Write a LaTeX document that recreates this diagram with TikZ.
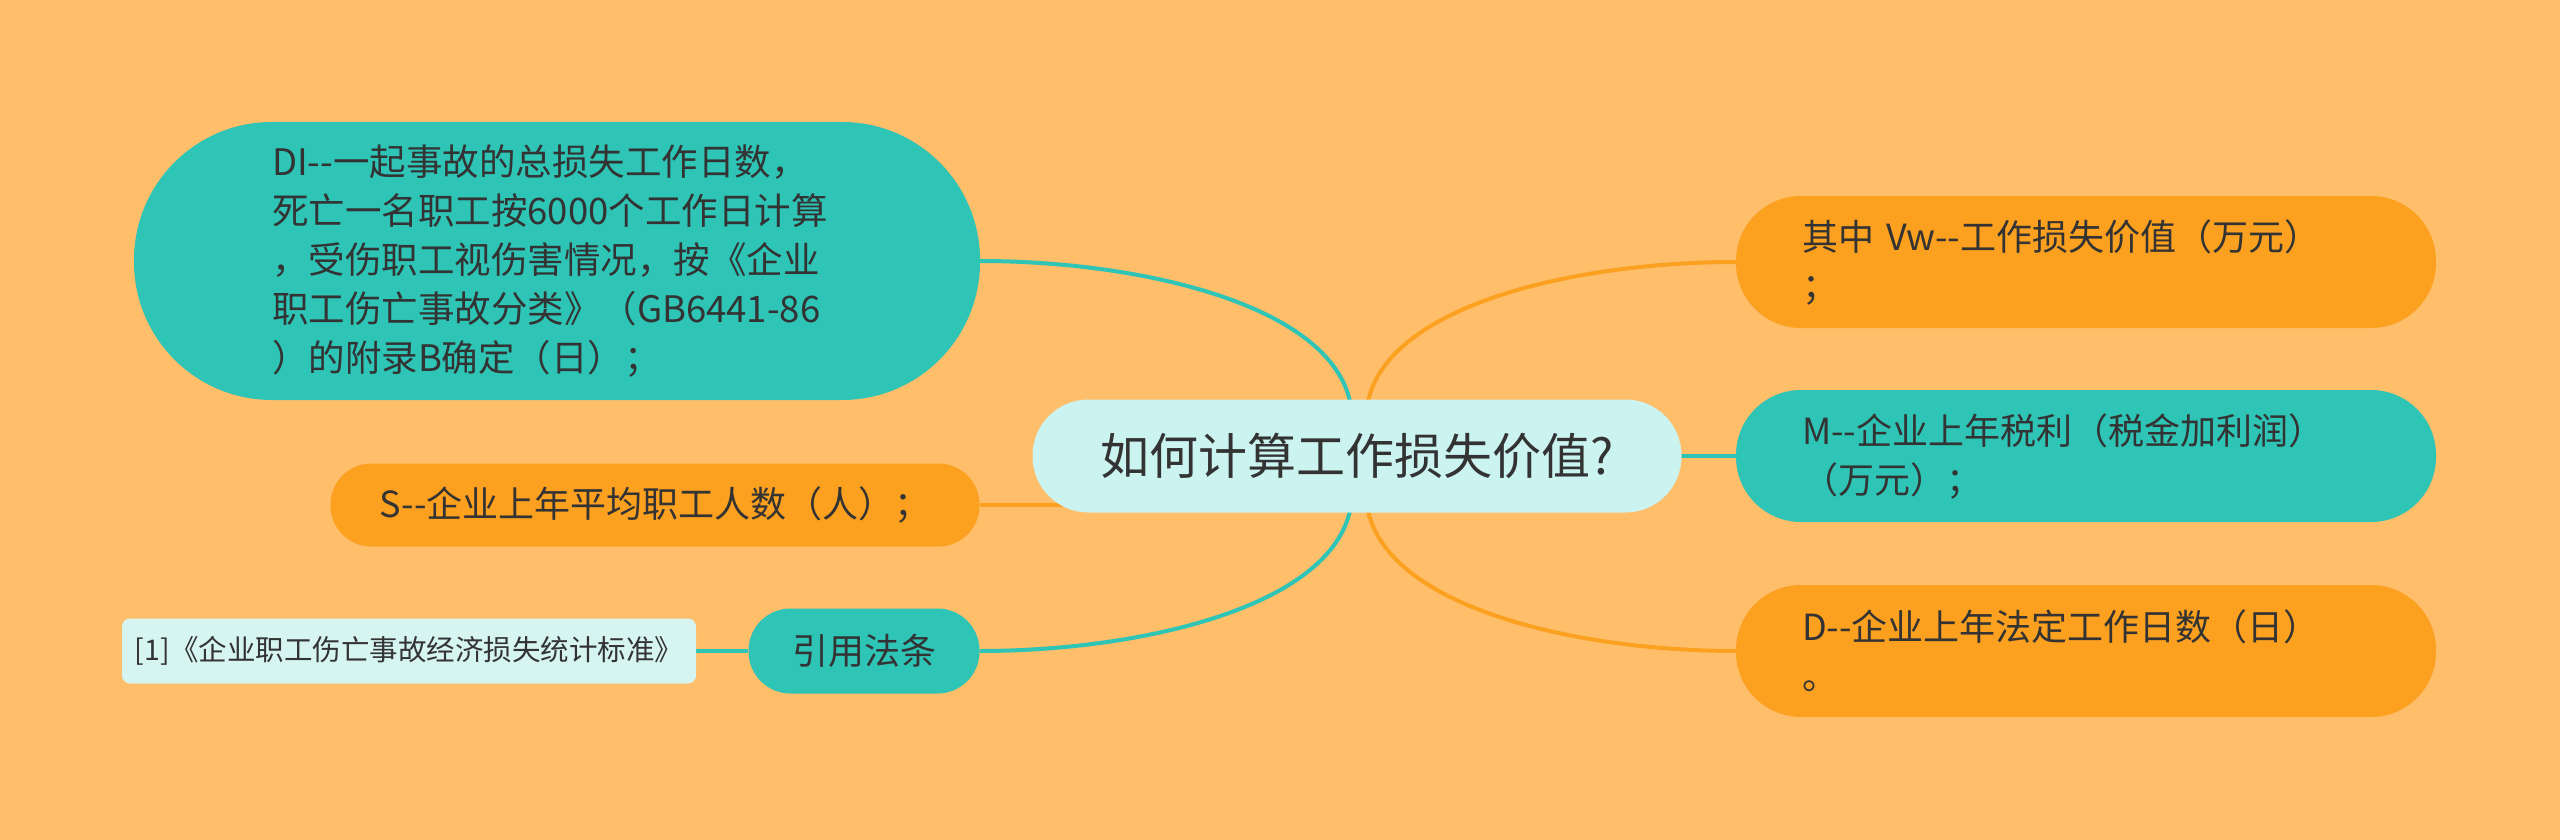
\documentclass[tikz,border=0pt]{standalone}
\usepackage{fontspec}
\newfontfamily\cjk{Noto Sans CJK SC}
\usetikzlibrary{calc}
\definecolor{bgc}{HTML}{FEBE6A}
\definecolor{orn}{HTML}{FCA01F}
\definecolor{tea}{HTML}{2EC4B6}
\definecolor{lcy}{HTML}{CBF3F0}
\definecolor{lcy2}{HTML}{D6F4F0}
\definecolor{txt}{HTML}{333333}
\pgfdeclarelayer{bglayer}
\pgfdeclarelayer{edgelayer}
\pgfsetlayers{bglayer,edgelayer,main}
\tikzset{
  base/.style={rectangle, inner sep=0pt, text=txt, font=\cjk\fontsize{36}{49}\selectfont},
  pill/.style={base, rounded corners=#1},
  orangebox/.style={fill=orn},
  tealbox/.style={fill=tea},
  tline/.style={draw=tea, line width=4pt},
  oline/.style={draw=orn, line width=4pt},
}
\begin{document}
\begin{tikzpicture}[x=1pt,y=-1pt]
\begin{pgfonlayer}{bglayer}
\fill[bgc] (0,0) rectangle (2560,840);
\end{pgfonlayer}
\useasboundingbox (0,0) rectangle (2560,840);

\node[pill=56pt, fill=lcy, minimum width=649pt, minimum height=113pt, font=\cjk\fontsize{49}{58}\selectfont] (c) at (1357,456) {如何计算工作损失价值?};
\coordinate (clu) at ($(c.center)+(-5,-36)$);
\coordinate (cld) at ($(c.center)+(-5,36)$);
\coordinate (cru) at ($(c.center)+(9,-36)$);
\coordinate (crd) at ($(c.center)+(9,36)$);

\node[pill=138pt, tealbox, minimum width=846pt, minimum height=278pt, text width=570pt, align=left, font=\cjk\fontsize{36.5}{49}\selectfont] (di) at (557,261)
 {DI--一起事故的总损失工作日数，\\死亡一名职工按6000个工作日计算\\，受伤职工视伤害情况，按《企业\\职工伤亡事故分类》（GB6441-86\\）的附录B确定（日）；};

\node[pill=41pt, orangebox, minimum width=649pt, minimum height=83pt] (s) at (655,505) {S--企业上年平均职工人数（人）；};

\node[pill=42pt, tealbox, minimum width=231pt, minimum height=85pt] (yf) at (864,651) {引用法条};

\node[base, rounded corners=8pt, fill=lcy2, minimum width=574pt, minimum height=65pt, font=\cjk\fontsize{28.5}{33}\selectfont] (ref) at (409,651) {[1]《企业职工伤亡事故经济损失统计标准》};

\node[pill=65pt, orangebox, minimum width=700pt, minimum height=132pt, text width=568pt, align=left] (vw) at (2086,262) {其中 Vw--工作损失价值（万元）\\；};

\node[pill=65pt, tealbox, minimum width=700pt, minimum height=132pt, text width=568pt, align=left] (m) at (2086,456) {M--企业上年税利（税金加利润）\\（万元）；};

\node[pill=65pt, orangebox, minimum width=700pt, minimum height=132pt, text width=568pt, align=left] (d) at (2086,651) {D--企业上年法定工作日数（日）\\。};

\begin{pgfonlayer}{edgelayer}
\draw[tline] (clu) .. controls ($(clu)+(0,-110)$) and ($(di.east)+(170,0)$) .. (di.east);
\draw[oline] (s.east) -- (s.east -| c.center);
\draw[tline] (cld) .. controls ($(cld)+(0,110)$) and ($(yf.east)+(170,0)$) .. (yf.east);
\draw[tline] (yf.west) -- (ref.east);
\draw[oline] (cru) .. controls ($(cru)+(0,-110)$) and ($(vw.west)+(-170,0)$) .. (vw.west);
\draw[tline] (c.center) -- (m.west);
\draw[oline] (crd) .. controls ($(crd)+(0,110)$) and ($(d.west)+(-170,0)$) .. (d.west);
\end{pgfonlayer}
\end{tikzpicture}
\end{document}
